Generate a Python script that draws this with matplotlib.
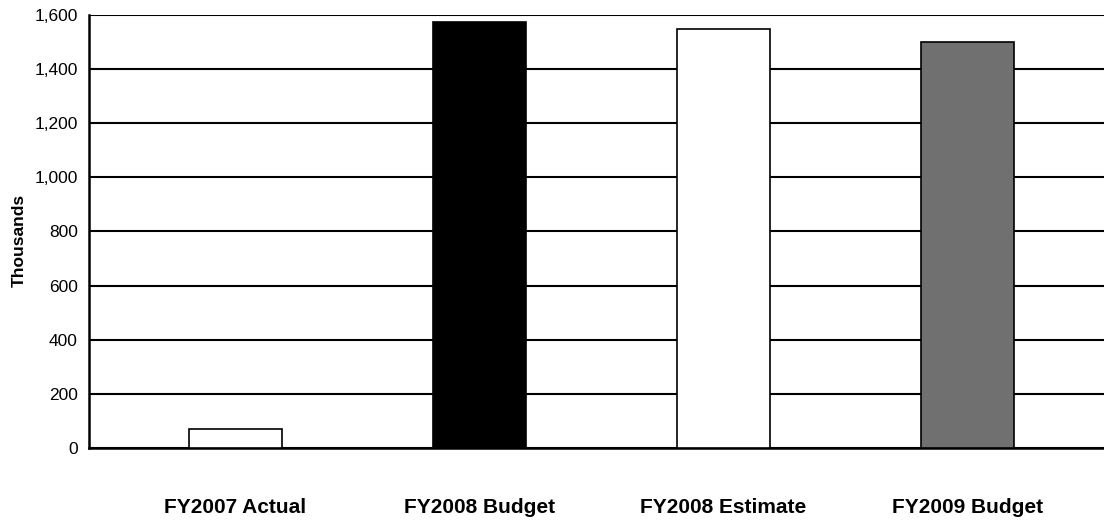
import numpy as np
import matplotlib
matplotlib.use("Agg")
import matplotlib.pyplot as plt

# Data (thousands)
categories = ["FY2007 Actual", "FY2008 Budget", "FY2008 Estimate", "FY2009 Budget"]
values = [70, 1575, 1550, 1500]
colors = ["white", "black", "white", "#707070"]

plt.rcParams['font.family'] = ['Liberation Sans', 'DejaVu Sans']

fig = plt.figure(figsize=(11.04, 5.2), dpi=100)
ax = fig.add_axes([89 / 1104, 72 / 520, 1 - 89 / 1104, 433 / 520])

x = np.arange(len(categories))
ax.set_axisbelow(True)
ax.yaxis.grid(True, color="black", linewidth=1.5)
ax.bar(x, values, width=0.38, color=colors, edgecolor="black", linewidth=1.2, zorder=3)

ax.set_ylim(0, 1600)
ax.set_xlim(-0.6, 3.56)
ax.set_yticks(np.arange(0, 1601, 200))
ax.set_yticklabels([f"{v:,}" for v in range(0, 1601, 200)], fontsize=12.5)
ax.set_xticks(x)
ax.set_xticklabels(categories, fontsize=15, fontweight="bold")
ax.tick_params(axis="x", length=0, pad=36)
ax.tick_params(axis="y", length=0, pad=8)

ax.set_ylabel("Thousands", fontsize=12.5, fontweight="bold")
ax.yaxis.set_label_coords(-0.061, 0.48)

for side in ["top", "right"]:
    ax.spines[side].set_visible(False)
ax.spines["left"].set_linewidth(1.8)
ax.spines["bottom"].set_linewidth(1.8)

plt.savefig("out.png", dpi=100)
